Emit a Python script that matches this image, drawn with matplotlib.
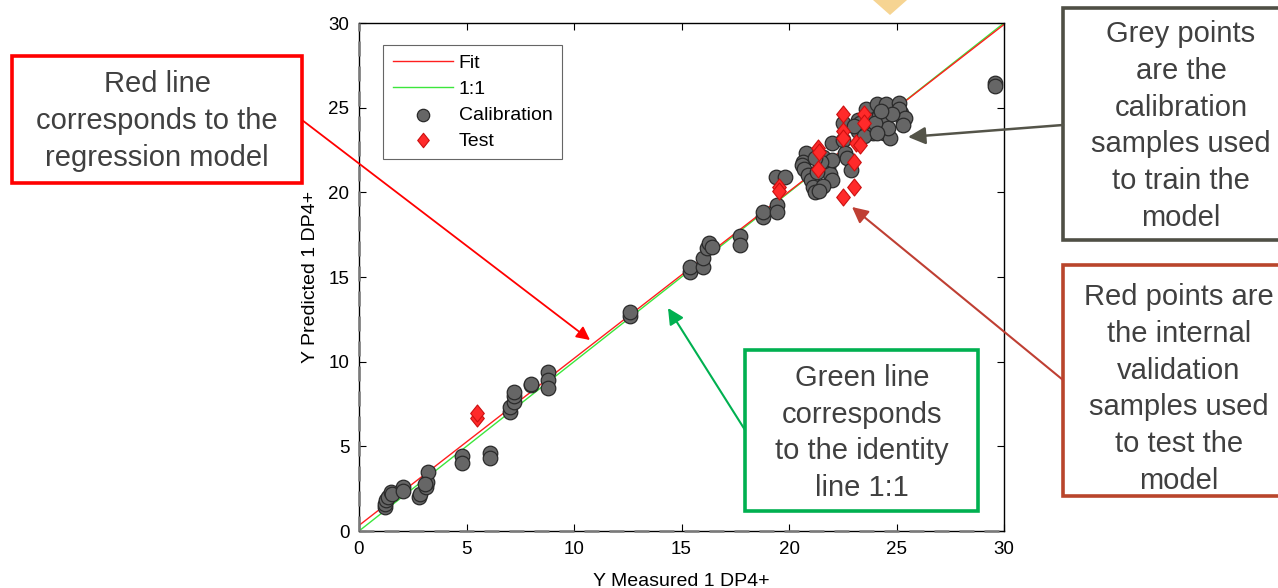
import matplotlib
matplotlib.use('Agg')
import matplotlib.pyplot as plt
from matplotlib.patches import Rectangle, Polygon, FancyArrowPatch
from matplotlib.path import Path
import numpy as np

plt.rcParams['font.family'] = ['Liberation Sans', 'DejaVu Sans']

# ---------------- data ----------------
cal_x = [1.2, 1.21, 1.25, 1.35, 1.5, 1.55, 2.05, 2.05, 2.8, 2.85, 3.1, 3.15, 3.2, 3.05,
         4.8, 4.8, 6.1, 6.1, 7.0, 7.0, 7.2, 7.2, 7.2, 8.0, 8.0, 8.8, 8.8, 8.8,
         12.6, 12.6, 15.4, 15.4, 16.0, 16.0, 16.2, 16.3, 16.4, 17.7, 17.7, 18.8, 18.8,
         19.45, 19.45, 19.4, 19.8,
         20.8, 20.65, 20.6, 20.7, 20.9, 21.0, 21.1, 21.2, 21.6, 21.8, 21.9, 22.0, 22.0, 22.0,
         21.6, 21.4, 21.3, 21.5, 21.2,
         22.5, 22.5, 22.6, 22.7, 22.9, 23.2, 23.3, 23.6, 23.8, 23.9, 23.2, 23.0, 23.5,
         24.1, 24.5, 24.2, 24.4, 24.4, 24.7, 24.6, 25.1, 25.2, 25.3, 25.1, 24.0, 24.1,
         25.4, 25.3, 24.8, 24.3,
         29.6, 29.6]
cal_y = [1.4, 1.6, 1.85, 2.0, 2.3, 2.2, 2.6, 2.35, 2.0, 2.2, 2.6, 2.9, 3.5, 2.8,
         4.4, 4.0, 4.6, 4.3, 7.0, 7.3, 7.6, 8.0, 8.2, 8.6, 8.7, 9.4, 8.9, 8.45,
         12.7, 12.95, 15.3, 15.6, 15.6, 16.1, 16.7, 17.0, 16.8, 17.4, 16.9, 18.55, 18.85,
         19.25, 18.85, 20.9, 20.9,
         22.3, 21.8, 21.6, 21.4, 21.0, 20.7, 20.3, 20.0, 22.1, 21.5, 21.1, 20.7, 21.9, 22.9,
         20.4, 20.1, 21.2, 21.8, 22.0,
         24.1, 23.1, 22.3, 22.0, 21.3, 24.3, 24.1, 24.9, 24.3, 23.5, 23.6, 23.9, 23.3,
         25.2, 25.2, 24.5, 24.1, 23.5, 23.2, 23.8, 25.3, 24.7, 24.2, 24.9, 24.1, 23.5,
         24.4, 24.0, 24.6, 24.8,
         26.45, 26.3]

test_x = [5.5, 5.5, 19.55, 19.55, 21.35, 21.35, 21.4, 22.5, 22.5, 22.5, 23.1, 23.3,
          23.0, 23.5, 23.5, 23.0, 22.5]
test_y = [6.7, 6.95, 20.3, 20.05, 22.6, 21.4, 22.4, 24.6, 23.6, 23.2, 22.9, 22.8,
          21.8, 24.6, 24.1, 20.3, 19.7]

fit_slope = 0.986
fit_intercept = 0.33
line_x = [0, 30]

ticks = [0, 5, 10, 15, 20, 25, 30]
legend_labels = ['Fit', '1:1', 'Calibration', 'Test']
x_label = 'Y Measured 1 DP4+'
y_label = 'Y Predicted 1 DP4+'

# ---------------- figure ----------------
W, H = 1278, 588
fig = plt.figure(figsize=(W / 100, H / 100), dpi=100)
ax = fig.add_axes([359 / W, 57 / H, 645 / W, 508 / H])

ax.axhline(0, color='#7a7a7a', lw=1.8, ls=(0, (6, 4)), zorder=5, clip_on=False)
ax.axvline(0, color='#7a7a7a', lw=1.8, ls=(0, (6, 4)), zorder=5, clip_on=False)

xs = np.array(line_x, dtype=float)
l_id, = ax.plot(xs, xs, color='#3ce63c', lw=1.0, zorder=2)
l_fit, = ax.plot(xs, fit_intercept + fit_slope * xs, color='#ff1e1e', lw=1.0, zorder=2)

sc_cal = ax.scatter(cal_x, cal_y, s=110, marker='o', facecolor='#666666',
                    edgecolor='#2a2a2a', linewidths=0.9, zorder=3)
diamond = Path([(0, 1), (0.8, 0), (0, -1), (-0.8, 0), (0, 1)],
               [Path.MOVETO, Path.LINETO, Path.LINETO, Path.LINETO, Path.CLOSEPOLY])
sc_test = ax.scatter(test_x, test_y, s=150, marker=diamond, facecolor='#ff2a2a',
                     edgecolor='#cc1010', linewidths=0.8, zorder=4)

ax.set_xlim(0, 30)
ax.set_ylim(0, 30)
ax.set_xticks(ticks)
ax.set_yticks(ticks)
ax.tick_params(direction='in', length=5, width=0.8, top=True, right=True,
               labelsize=13.5, pad=7)
for sp in ax.spines.values():
    sp.set_linewidth(1.0)
    sp.set_color('black')
ax.set_xlabel(x_label, fontsize=14, labelpad=11)
ax.set_ylabel(y_label, fontsize=14, labelpad=7)

leg = ax.legend([l_fit, l_id, sc_cal, sc_test], legend_labels, loc='upper left',
                bbox_to_anchor=(0.037, 0.957), borderaxespad=0, fontsize=14,
                frameon=True, fancybox=False, edgecolor='#404040', handlelength=3.1,
                labelspacing=0.42, handletextpad=0.3, borderpad=0.5,
                markerscale=0.85)
leg.get_frame().set_linewidth(0.8)

# ---------------- annotation overlay ----------------
ov = fig.add_axes([0, 0, 1, 1], zorder=10)
ov.set_xlim(0, W)
ov.set_ylim(H, 0)
ov.axis('off')

txt_color = '#404040'
fs = 21
ls = 1.4

def box(x0, y0, x1, y1, ec):
    ov.add_patch(Rectangle((x0, y0), x1 - x0, y1 - y0, fill=True, facecolor='white',
                           edgecolor=ec, lw=2.6, clip_on=False))

def arrow(p0, p1, color, lw, ms):
    ov.add_patch(FancyArrowPatch(p0, p1, arrowstyle='-|>', mutation_scale=ms,
                                 color=color, lw=lw, shrinkA=0, shrinkB=0))

def label(x, y, s):
    ov.text(x, y, s, ha='center', va='center', fontsize=fs, color=txt_color,
            linespacing=ls, multialignment='center')

# orange shape at the top
ov.add_patch(Polygon([(873, 0), (907, 0), (890, 15)], closed=True,
                     facecolor='#f6d492', edgecolor='none'))

# red box
box(12, 56, 302, 183, '#ff0000')
label(157, 121, 'Red line\ncorresponds to the\nregression model')
arrow((302, 120), (590, 340), '#ff0000', 1.3, 20)

# grey box
box(1063, 8, 1290, 240, '#4f4f45')
label(1181, 126, 'Grey points\nare the\ncalibration\nsamples used\nto train the\nmodel')
arrow((1063, 125), (908, 137), '#545449', 1.8, 26)

# brown box
box(1063, 265, 1290, 496, '#b9452b')
label(1179, 389, 'Red points are\nthe internal\nvalidation\nsamples used\nto test the\nmodel')
arrow((1063, 380), (852, 207), '#bf3f33', 1.5, 24)

# green box
box(745, 350, 978, 511, '#00b050')
label(862, 433, 'Green line\ncorresponds\nto the identity\nline 1:1')
arrow((745, 430), (668, 308), '#00b050', 1.5, 24)

fig.savefig('out.png', dpi=100)
